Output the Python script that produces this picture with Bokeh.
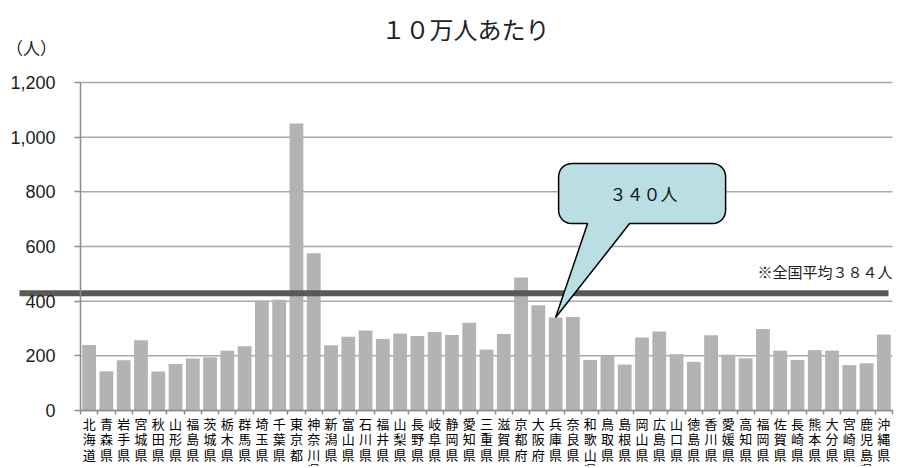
import numpy as np
from bokeh.plotting import figure
from bokeh.models import (Range1d, FixedTicker, NumeralTickFormatter, Label)
from bokeh.embed import file_html
from bokeh.resources import INLINE

# ---------------- data ----------------
prefectures = ["北海道", "青森県", "岩手県", "宮城県", "秋田県", "山形県", "福島県",
               "茨城県", "栃木県", "群馬県", "埼玉県", "千葉県", "東京都", "神奈川県",
               "新潟県", "富山県", "石川県", "福井県", "山梨県", "長野県", "岐阜県",
               "静岡県", "愛知県", "三重県", "滋賀県", "京都府", "大阪府", "兵庫県",
               "奈良県", "和歌山県", "鳥取県", "島根県", "岡山県", "広島県", "山口県",
               "徳島県", "香川県", "愛媛県", "高知県", "福岡県", "佐賀県", "長崎県",
               "熊本県", "大分県", "宮崎県", "鹿児島県", "沖縄県"]
per_100k = [240, 144, 184, 257, 143, 170, 190,
            195, 219, 235, 402, 405, 1050, 575,
            239, 270, 293, 262, 282, 273, 287,
            276, 321, 223, 280, 487, 385, 340,
            342, 185, 200, 168, 267, 289, 206,
            178, 275, 204, 191, 298, 219, 185,
            221, 219, 166, 173, 278]
y_ticks = [0, 200, 400, 600, 800, 1000, 1200]
title_text = "１０万人あたり"
unit_text = "（人）"
national_avg_text = "※全国平均３８４人"
avg_bar_level = 429          # height at which the reference draws the average bar
callout_pref = "兵庫県"
callout_text = "３４０人"

# ---------------- layout (pixels) ----------------
W, H = 900, 466
PL, PR, PT, PB = 80, 892, 82, 410      # plotting area edges on the canvas
n = len(prefectures)
px_x = (PR - PL) / n
px_y = (PB - PT) / (y_ticks[-1] - y_ticks[0])

def dx(px):   # canvas x -> data x
    return -0.5 + (px - PL) / px_x

def dy(py):   # canvas y -> data y
    return y_ticks[0] + (PB - py) / px_y

p = figure(width=W, height=H, output_backend="svg", toolbar_location=None,
           title=None, min_border=0,
           x_range=Range1d(dx(0), dx(W)), y_range=Range1d(dy(H), dy(0)))
p.outline_line_color = None
p.background_fill_color = "white"
p.border_fill_color = "white"
p.xgrid.visible = False
p.ygrid.visible = False

xs = list(range(n))

# horizontal gridlines
p.segment(x0=[-0.5] * len(y_ticks), x1=[n - 0.5] * len(y_ticks), y0=y_ticks, y1=y_ticks,
          line_color="#a9a9a9", line_width=1.5, level="underlay")

# bars
p.vbar(x=xs, top=per_100k, width=0.8, fill_color="#b3b3b3", line_color=None)

# y axis
ya = p.yaxis[0]
ya.fixed_location = -0.5
ya.bounds = (y_ticks[0], y_ticks[-1])
ya.ticker = FixedTicker(ticks=y_ticks)
ya.formatter = NumeralTickFormatter(format="0,0")
ya.major_tick_out = 6
ya.major_tick_in = 0
ya.minor_tick_out = 0
ya.minor_tick_in = 0
ya.axis_line_color = "#8c8c8c"
ya.axis_line_width = 1.5
ya.major_tick_line_color = "#8c8c8c"
ya.major_tick_line_width = 1.5
ya.major_label_text_font = "Liberation Sans"
ya.major_label_text_font_size = "18px"
ya.major_label_text_color = "#1c1c1c"
ya.major_label_standoff = 19

# x axis: labels at bar centres, ticks at category boundaries
xa = p.xaxis[0]
xa.fixed_location = y_ticks[0]
xa.bounds = (-0.5, n - 0.5)
xa.ticker = FixedTicker(ticks=xs, minor_ticks=[i - 0.5 for i in range(n + 1)])
xa.major_label_overrides = {i: "\n".join(s) for i, s in enumerate(prefectures)}
xa.major_tick_out = 0
xa.major_tick_in = 0
xa.minor_tick_out = 4
xa.minor_tick_in = 0
xa.minor_tick_line_color = "#8c8c8c"
xa.minor_tick_line_width = 1.5
xa.axis_line_color = "#8c8c8c"
xa.axis_line_width = 1.5
xa.major_label_text_font = "Noto Sans CJK JP"
xa.major_label_text_font_size = "13px"
xa.major_label_text_line_height = 0.82
xa.major_label_text_color = "#000000"
xa.major_label_standoff = -1

# national average bar and its note
p.segment(x0=[dx(19)], x1=[dx(888)], y0=[avg_bar_level], y1=[avg_bar_level],
          line_color="#595959", line_width=6)
p.add_layout(Label(x=n - 0.5, y=avg_bar_level, y_offset=11, text=national_avg_text,
                   text_align="right", text_baseline="bottom",
                   text_font="Noto Sans CJK JP", text_font_size="15px",
                   text_color="#222222"))

# callout balloon (pixel offsets from the tip, converted to data units)
ci = prefectures.index(callout_pref)
tip_x, tip_y = ci, per_100k[ci]
L, R, B, T, r = 3, 170, 94, 154, 13
pts = [(32, B), (0, 0), (74, B)]
def arc(cx, cy, a0, a1):
    return [(cx + r * np.cos(a), cy + r * np.sin(a)) for a in np.linspace(a0, a1, 8)]
pts += arc(R - r, B + r, -np.pi / 2, 0)
pts += arc(R - r, T - r, 0, np.pi / 2)
pts += arc(L + r, T - r, np.pi / 2, np.pi)
pts += arc(L + r, B + r, np.pi, 1.5 * np.pi)
bx = [tip_x + a / px_x for a, _ in pts]
by = [tip_y + b / px_y for _, b in pts]
p.patch(bx, by, fill_color="#b9dfe4", line_color="black", line_width=1.5,
        level="overlay")
p.add_layout(Label(x=tip_x + 88 / px_x, y=tip_y + 124 / px_y, text=callout_text,
                   text_align="center", text_baseline="middle",
                   text_font="Noto Sans CJK JP", text_font_size="17px",
                   text_color="#111111", level="overlay"))

# title and unit
p.add_layout(Label(x=dx(465), y=dy(28), text=title_text,
                   text_align="center", text_baseline="middle",
                   text_font="Noto Sans CJK JP", text_font_size="24px",
                   text_color="#222222"))
p.add_layout(Label(x=dx(31), y=dy(47), text=unit_text,
                   text_align="center", text_baseline="middle",
                   text_font="Noto Sans CJK JP", text_font_size="17px",
                   text_color="#222222"))

open("out.html", "w").write(file_html(p, INLINE))
